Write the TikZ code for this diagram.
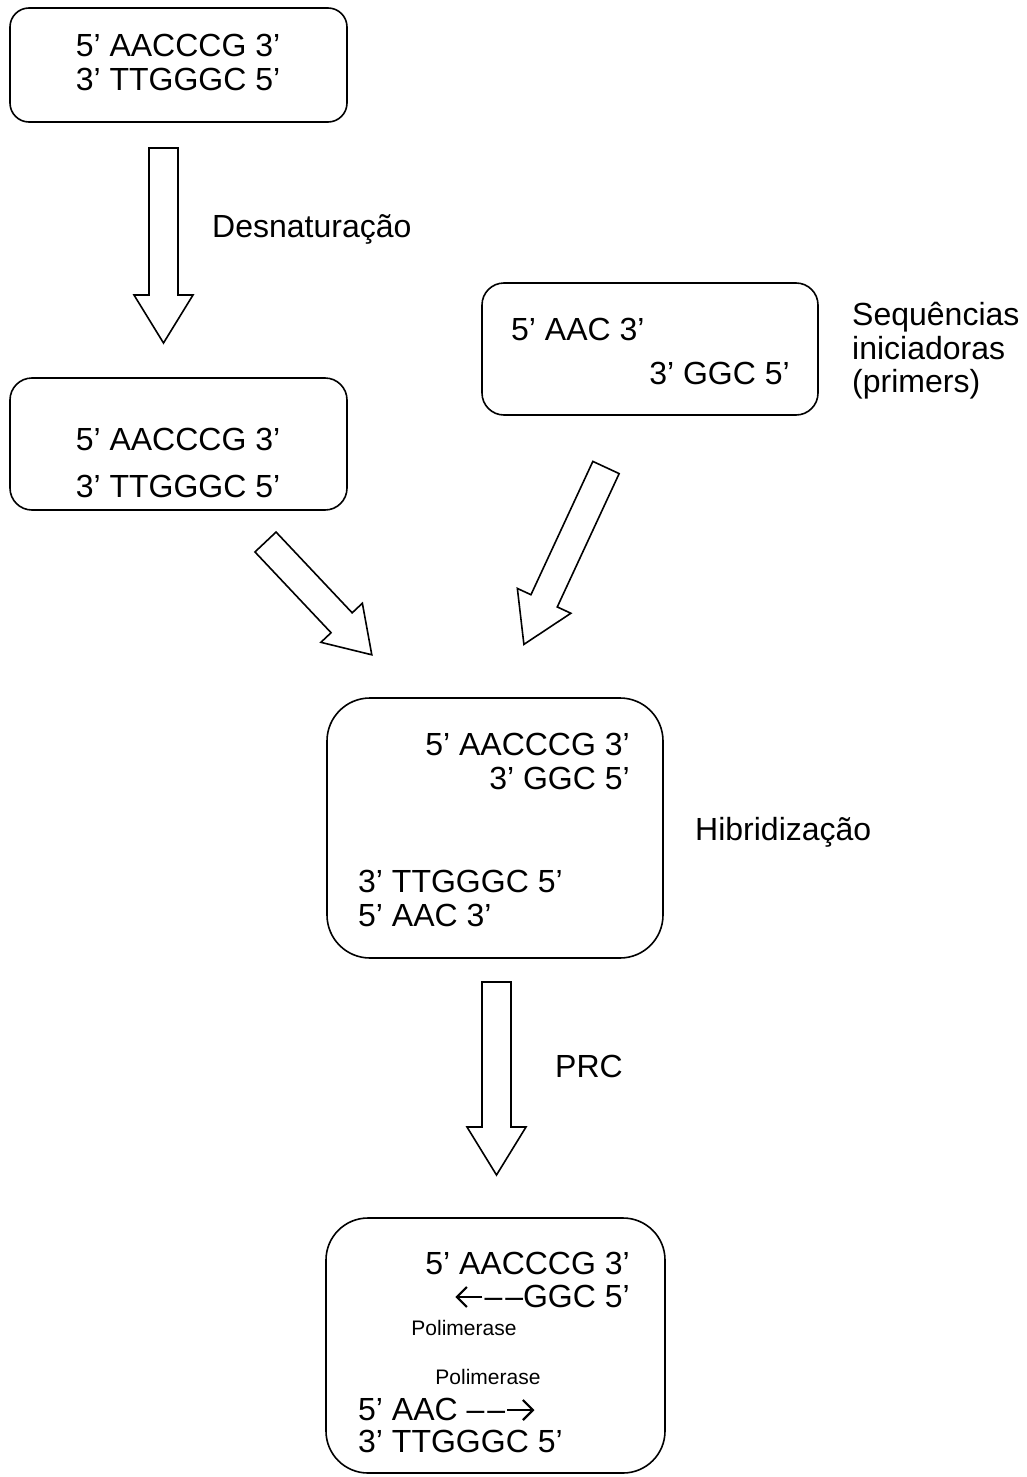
\documentclass[tikz,border=0pt]{standalone}
\usepackage{fontspec}
\setmainfont{Liberation Sans}
\usetikzlibrary{arrows.meta}

\tikzset{
  dnabox/.style={draw, line width=1.6pt, inner sep=0pt},
  seq/.style={font=\fontsize{32}{34}\selectfont, inner sep=0pt},
  enzyme/.style={font=\fontsize{21}{24}\selectfont, inner sep=0pt},
  strandarrow/.style={line width=2.2pt, -{Straight Barb[length=10pt, width=20pt, line width=2.2pt]}},
  % hollow block arrow, tail at the origin, pointing along +x
  pics/blkarrow/.style n args={3}{code={
      \draw[line width=1.6pt, line join=miter]
        (0,-14.5) -- (#1-#2,-14.5) -- (#1-#2,-#3) -- (#1,0)
        -- (#1-#2,#3) -- (#1-#2,14.5) -- (0,14.5) -- cycle;
    }}
}

\begin{document}
\begin{tikzpicture}[x=1pt, y=-1pt]
        % Diagram: PCR steps, DNA strands in rounded boxes, hollow arrows between them.
        % Coordinates: pixel grid of the page, y grows downwards.
        \useasboundingbox (0,0) rectangle (1027,1477);

        % boxes
        \node[dnabox, minimum width=337pt, minimum height=114pt, rounded corners=19pt] (dupla) at (178.5,65) {};
        \node[dnabox, minimum width=337pt, minimum height=132pt, rounded corners=22pt] (simples) at (178.5,444) {};
        \node[dnabox, minimum width=336pt, minimum height=132pt, rounded corners=22pt] (primers) at (650,349) {};
        \node[dnabox, minimum width=336pt, minimum height=260pt, rounded corners=43pt] (hibrido) at (495,828) {};
        \node[dnabox, minimum width=339pt, minimum height=255pt, rounded corners=42pt] (copia) at (495.5,1345.5) {};

        % strands, one node per line
        \foreach \nm/\x/\y/\anc/\txt in {
            d1/178/57/base/{5’ AACCCG 3’}, d2/178/91/base/{3’ TTGGGC 5’},
            s1/178/450/base/{5’ AACCCG 3’}, s2/178/497/base/{3’ TTGGGC 5’},
            p1/511/340/base west/{5’ AAC 3’}, p2/790/384/base east/{3’ GGC 5’},
            h1/630/755/base east/{5’ AACCCG 3’}, h2/630/789/base east/{3’ GGC 5’},
            h3/358/892/base west/{3’ TTGGGC 5’}, h4/358/926/base west/{5’ AAC 3’},
            c1/630/1274/base east/{5’ AACCCG 3’}, c2/630/1307/base east/{–\kern3pt–GGC 5’},
            c3/358/1420/base west/{5’ AAC –\kern3pt–}, c4/358/1452/base west/{3’ TTGGGC 5’}} {
          \node[seq, anchor=\anc] (\nm) at (\x,\y) {\txt};
        }
        \node[enzyme, anchor=base] (pol1) at (464,1335) {Polimerase};
        \node[enzyme, anchor=base] (pol2) at (488,1384) {Polimerase};

        % polymerase direction
        \draw[strandarrow] ([shift={(-2,-10)}]c2.base west) -- ++(-27,0);
        \draw[strandarrow] ([shift={(2,-10)}]c3.base east) -- ++(27,0);

        % step labels
        \node[seq, anchor=base west] (desnat) at (212,237) {Desnaturação};
        \node[seq, anchor=base west] (seq1) at (852,325) {Sequências};
        \node[seq, anchor=base west] (seq2) at (852,359) {iniciadoras};
        \node[seq, anchor=base west] (seq3) at (852,392) {(primers)};
        \node[seq, anchor=base west] (hibrid) at (695,840) {Hibridização};
        \node[seq, anchor=base west] (prc) at (555,1077) {PRC};

        % arrows
        \pic[rotate=-90] at (163.5,148) {blkarrow={195}{48}{29.5}};
        \pic[rotate=-46.7] at (265.5,542) {blkarrow={155}{44}{28.5}};
        \pic[rotate=-114.9] at (606,467.5) {blkarrow={195}{48}{29.5}};
        \pic[rotate=-90] at (496.5,982) {blkarrow={193}{48}{29.5}};
      \end{tikzpicture}
\end{document}
